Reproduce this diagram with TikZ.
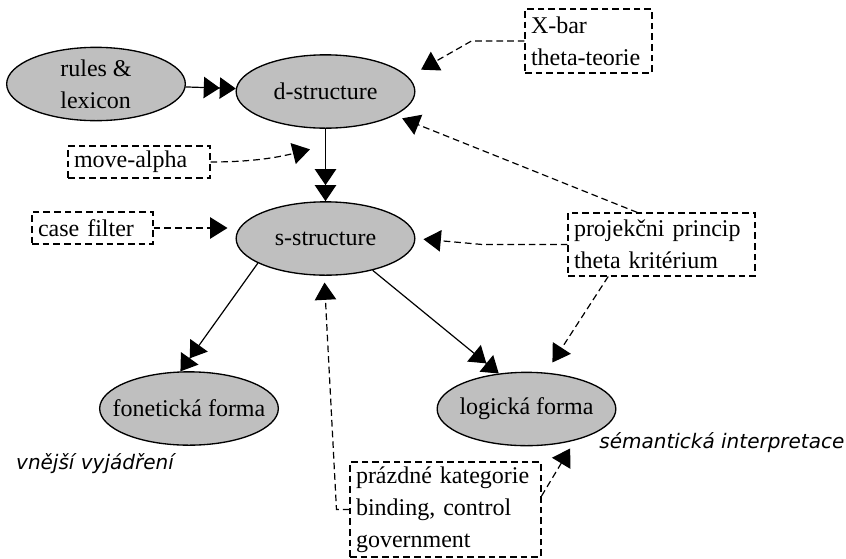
\documentclass[tikz,border=0pt]{standalone}
\usepackage{fontspec}
\setmainfont{Liberation Serif}
\newfontfamily\notefont{DejaVu Sans}
\usepackage{tikz}
\usetikzlibrary{positioning, shapes.geometric, arrows.meta}

\begin{document}
\begin{tikzpicture}[x=0.75pt,y=-0.75pt]
	\tikzstyle{level}=[ellipse,draw=black,line width=1pt,fill=gray!50,minimum width=134pt,minimum height=55pt,inner xsep=-12pt,inner ysep=-4pt,font=\fontsize{18}{24}\selectfont]
	\tikzstyle{rulebox}=[draw=black,dash pattern=on 5pt off 3pt,line width=0.8pt,align=left,inner xsep=4.5pt,inner ysep=0pt,font=\fontsize{18}{24}\selectfont]
	\tikzstyle{remark}=[font=\notefont\fontsize{15}{18}\selectfont\itshape]
	\tikzstyle{derive}=[line width=0.9pt,-{Triangle[length=12pt,width=16pt]Triangle[length=12pt,width=16pt]}]
	\tikzstyle{affect}=[line width=0.9pt,dash pattern=on 5pt off 3pt,-{Triangle[length=13pt,width=16pt]}]
	\useasboundingbox (0,0) rectangle (846,558);
	% levels
	\node[level,align=left](lex) at (96,84) {rules \&\\lexicon};
	\node[level](dstr) at (325.5,91.5) {d-structure};
	\node[level](sstr) at (325.5,238.5) {s-structure};
	\node[level](fon) at (189,408.5) {fonetická forma};
	\node[level](log) at (526.5,409) {logická forma};
	% principles
	\node[rulebox,text width=86.25pt,minimum height=48pt](xbar) at (588.5,41) {X-bar\\theta-teorie};
	\node[rulebox,text width=97.5pt,minimum height=24pt](movea) at (139,162) {move-alpha};
	\node[rulebox,text width=81.75pt,minimum height=24pt](casef) at (92.5,228) {case filter};
	\node[rulebox,text width=131.25pt,minimum height=47.25pt](proj) at (661.5,244.5) {projekčni princip\\theta kritérium};
	\node[rulebox,text width=134.25pt,minimum height=71.25pt](prazd) at (445.5,509.5) {prázdné kategorie\\binding, control\\government};
	\node[remark](vnejsi) at (95,464) {vnější vyjádření};
	\node[remark,anchor=east,inner xsep=1pt](sem) at (846,443) {sémantická interpretace};
	% derivation
	\path[derive]
		(lex) edge (dstr)
		(dstr) edge node[coordinate,pos=0.23](ds) {} (sstr)
		(sstr.200) edge (fon.103)
		(sstr.-34) edge (log.128);
	% conditions
	\draw[affect,shorten >=11pt] (xbar.west) -- ++(-53,0) -- (dstr.10);
	\draw[affect,shorten >=12pt] (movea.east) to[out=0,in=194] (ds);
	\draw[affect,shorten >=6pt] (casef.east) -- (casef.east -| sstr.west);
	\draw[affect,shorten >=6pt] (proj.west) -- ++(-85,0) -- (sstr.east);
	\draw[affect,shorten >=6pt] (proj.127) -- (dstr.-19);
	\draw[affect,shorten >=9pt] (proj.-149) -- (log.62);
	\draw[affect,shorten >=5pt] (prazd.west) -- ++(-13,0) -- (sstr.-92);
	\draw[affect,shorten >=7pt] (prazd.8) -- (log.-33);
\end{tikzpicture}
\end{document}
